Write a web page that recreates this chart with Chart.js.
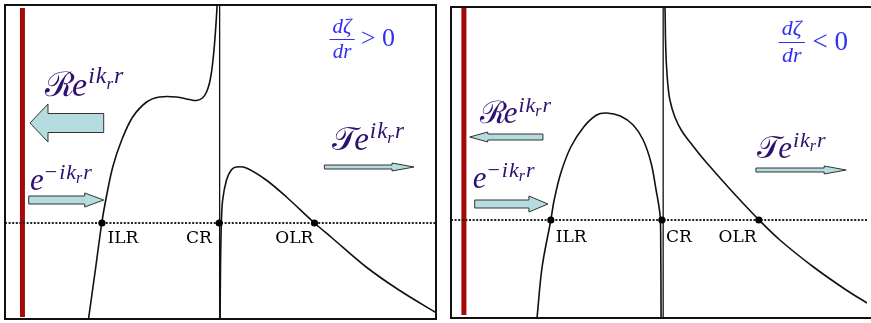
<!DOCTYPE html>
<html>
<head>
<meta charset="utf-8">
<script src="https://cdn.jsdelivr.net/npm/chart.js@4/dist/chart.umd.min.js"></script>
<style>
  html, body { margin: 0; padding: 0; background: #fff; overflow: hidden; }
  #wrap { position: relative; width: 871px; height: 323px; }
  canvas { position: absolute; top: 0; }
</style>
</head>
<body>
<div id="wrap">
  <canvas id="left" width="440" height="323" style="left:0"></canvas>
  <canvas id="right" width="425" height="323" style="left:446px"></canvas>
</div>
<script>
// --- data: radius r on x, wave quantity on y (schematic units) ---

// left panel, dzeta/dr > 0
const leftInner = [[1.921,-1.02],[1.944,-0.94],[2.106,-0.44],[2.245,0],[2.338,0.23],[2.50,0.56],[2.708,0.83],
  [2.963,1.06],[3.287,1.21],[3.588,1.26],[3.981,1.26],[4.282,1.235],[4.444,1.225],[4.583,1.25],[4.676,1.31],
  [4.745,1.40],[4.792,1.51],[4.826,1.63],[4.861,1.79],[4.884,1.92],[4.907,2.07],[4.921,2.18],[4.935,2.33]];
const leftOuter = [[4.985,-1.05],[4.99,-0.97],[5.00,-0.44],[5.02,0],[5.05,0.23],[5.14,0.43],[5.25,0.53],
  [5.37,0.56],[5.60,0.55],[6.06,0.43],[6.53,0.26],[7.18,0],[7.59,-0.15],[8.38,-0.44],[9.14,-0.67],[10.05,-0.91]];
const leftRes = [2.25, 4.97, 7.18];

// right panel, dzeta/dr < 0
const rightInner = [[2.05,-1.05],[2.07,-0.97],[2.19,-0.47],[2.40,0],[2.48,0.20],[2.64,0.47],[2.88,0.73],
  [3.19,0.93],[3.50,1.05],[3.74,1.07],[4.07,1.04],[4.38,0.95],[4.62,0.80],[4.81,0.57],[4.93,0.30],
  [5.02,0.07],[5.04,-0.13],[5.05,-1.05]];
const rightOuter = [[5.119,2.25],[5.143,2.13],[5.157,1.80],[5.179,1.55],[5.214,1.35],[5.262,1.20],[5.381,1.03],
  [5.548,0.89],[5.762,0.77],[6.048,0.62],[6.405,0.45],[6.881,0.23],[7.405,0],[7.905,-0.20],[8.714,-0.47],
  [9.50,-0.70],[10.0,-0.83],[10.12,-0.86]];
const rightRes = [2.40, 5.07, 7.40];

const resNames = ['ILR', 'CR', 'OLR'];

const PURPLE = '#2d1070';
const BLUE = '#3030f0';
const ARROW_FILL = '#b5dcde';
const SERIF = '"Liberation Serif", "DejaVu Serif", serif';

function f(size) { return 'italic ' + size + 'px ' + SERIF; }

// e^{(-)ik_r r} with an optional script letter in front
function waveText(prefix, minus, m) {
  const s = Math.round(m * 0.7), ss = Math.round(m * 0.5);
  const runs = [];
  if (prefix) runs.push({ t: prefix, font: m + 'px "DejaVu Serif", serif', dy: 0, k: -3 });
  runs.push({ t: 'e', font: f(m), dy: 0, k: 1 });
  if (minus) runs.push({ t: '\u2212', font: s + 'px ' + SERIF, dy: -m * 0.37, k: 2 });
  runs.push({ t: 'i', font: f(s), dy: -m * 0.37, k: 1 });
  runs.push({ t: 'k', font: f(s), dy: -m * 0.37, k: 0 });
  runs.push({ t: 'r', font: f(ss), dy: -m * 0.22, k: 1 });
  runs.push({ t: 'r', font: f(s), dy: -m * 0.37 });
  return runs;
}

const frame = {
  id: 'frame',
  afterDatasetsDraw(chart, args, opts) {
    const ctx = chart.ctx, xs = chart.scales.x, ys = chart.scales.y;
    const px = v => xs.getPixelForValue(v), py = v => ys.getPixelForValue(v);
    ctx.save();

    // arrows
    opts.arrows.forEach(a => {
      const x0 = px(a.from), x1 = px(a.to), y = py(a.y);
      const dir = Math.sign(x1 - x0);
      const hx = x1 - dir * a.headLen;
      ctx.beginPath();
      ctx.moveTo(x0, y - a.shaft / 2);
      ctx.lineTo(hx, y - a.shaft / 2);
      ctx.lineTo(hx, y - a.head / 2);
      ctx.lineTo(x1, y);
      ctx.lineTo(hx, y + a.head / 2);
      ctx.lineTo(hx, y + a.shaft / 2);
      ctx.lineTo(x0, y + a.shaft / 2);
      ctx.closePath();
      ctx.fillStyle = ARROW_FILL;
      ctx.fill();
      ctx.strokeStyle = '#333';
      ctx.lineWidth = 1;
      ctx.stroke();
    });

    // wave labels
    ctx.textBaseline = 'alphabetic';
    ctx.textAlign = 'left';
    opts.texts.forEach(tx => {
      let cx = px(tx.x);
      const y = py(tx.y);
      ctx.fillStyle = PURPLE;
      tx.runs.forEach(r => {
        ctx.font = r.font;
        ctx.fillText(r.t, cx, y + r.dy);
        cx += ctx.measureText(r.t).width + (r.k || 0);
      });
    });

    // d zeta / dr fraction
    const fr = opts.frac;
    const fx = px(fr.x), fy = py(fr.y);
    ctx.fillStyle = BLUE;
    ctx.strokeStyle = BLUE;
    ctx.textAlign = 'center';
    ctx.font = f(fr.size);
    ctx.fillText('d\u03B6', fx, fy - fr.size * 0.3);
    ctx.fillText('dr', fx, fy + fr.size * 0.9);
    ctx.lineWidth = 1;
    ctx.beginPath();
    ctx.moveTo(fx - fr.size * 0.6, fy + 0.5);
    ctx.lineTo(fx + fr.size * 0.6, fy + 0.5);
    ctx.stroke();
    ctx.textAlign = 'left';
    ctx.font = (fr.size + 5) + 'px ' + SERIF;
    ctx.fillText(fr.sign + ' 0', fx + fr.size * fr.gap, fy + fr.size * 0.35);

    // resonance names
    ctx.fillStyle = '#000';
    ctx.font = '17px "DejaVu Serif", serif';
    opts.names.forEach((n, i) => {
      ctx.textAlign = n.align;
      ctx.fillText(resNames[i], px(n.x), py(n.y));
    });

    // box
    const ca = chart.chartArea;
    ctx.strokeStyle = '#111';
    ctx.lineWidth = 2;
    ctx.beginPath();
    if (opts.open) {
      ctx.moveTo(chart.width + 2, ca.top);
      ctx.lineTo(ca.left, ca.top);
      ctx.lineTo(ca.left, ca.bottom);
      ctx.lineTo(chart.width + 2, ca.bottom);
    } else {
      ctx.rect(ca.left, ca.top, ca.right - ca.left, ca.bottom - ca.top);
    }
    ctx.stroke();
    ctx.restore();
  }
};

function pts(arr) { return arr.map(p => ({ x: p[0], y: p[1] })); }

function makePanel(id, p) {
  const datasets = [];
  p.curves.forEach(c => datasets.push({
    data: pts(c), showLine: true, pointRadius: 0, borderColor: '#111', borderWidth: 1.6,
    tension: 0.35, order: 1
  }));
  datasets.push({
    data: [{ x: p.cr, y: p.y[0] - 1 }, { x: p.cr, y: p.y[1] + 1 }],
    showLine: true, pointRadius: 0, borderColor: '#111', borderWidth: 1.3, order: 2
  });
  datasets.push({
    data: [{ x: 0, y: 0 }, { x: 10.5, y: 0 }],
    showLine: true, pointRadius: 0, borderColor: '#222', borderWidth: 1.8, borderDash: [2, 1.6], order: 3
  });
  datasets.push({
    data: [{ x: p.wall, y: p.wallY[0] }, { x: p.wall, y: p.wallY[1] }],
    showLine: true, pointRadius: 0, borderColor: '#a50a0a', borderWidth: 5, borderCapStyle: 'butt', order: 4
  });
  datasets.push({
    data: p.res.map(r => ({ x: r, y: 0 })),
    showLine: false, pointRadius: 3.6, pointBackgroundColor: '#000', pointBorderWidth: 0, order: 0
  });

  return new Chart(document.getElementById(id), {
    type: 'scatter',
    data: { datasets },
    options: {
      responsive: false,
      animation: false,
      layout: { padding: p.pad },
      elements: { line: { capBezierPoints: false } },
      scales: {
        x: { type: 'linear', display: false, min: 0, max: 10 },
        y: { type: 'linear', display: false, min: p.y[0], max: p.y[1] }
      },
      plugins: {
        legend: { display: false },
        tooltip: { enabled: false },
        frame: p.deco
      }
    },
    plugins: [frame]
  });
}

makePanel('left', {
  curves: [leftInner, leftOuter],
  res: leftRes,
  cr: 4.98,
  wall: 0.405,
  wallY: [-0.94, 2.15],
  y: [-0.96, 2.18],
  pad: { left: 5, top: 5, right: 3, bottom: 4 },
  deco: {
    open: false,
    arrows: [
      { from: 2.29, to: 0.58, y: 1.00, shaft: 19, head: 38, headLen: 18 },
      { from: 0.55, to: 2.29, y: 0.23, shaft: 8, head: 14, headLen: 19 },
      { from: 7.41, to: 9.49, y: 0.56, shaft: 4, head: 8, headLen: 22 }
    ],
    texts: [
      { x: 0.93, y: 1.27, runs: waveText('\u211B', false, 34) },
      { x: 0.58, y: 0.33, runs: waveText('', true, 31) },
      { x: 7.59, y: 0.73, runs: waveText('\uD835\uDCAF', false, 33) }
    ],
    frac: { x: 7.82, y: 1.84, size: 21, sign: '>', gap: 0.9 },
    names: [
      { x: 2.38, y: -0.20, align: 'left' },
      { x: 4.80, y: -0.20, align: 'right' },
      { x: 6.27, y: -0.20, align: 'left' }
    ]
  }
});

makePanel('right', {
  curves: [rightInner, rightOuter],
  res: rightRes,
  cr: 5.10,
  wall: 0.31,
  wallY: [-0.95, 2.13],
  y: [-0.98, 2.13],
  pad: { left: 5, top: 7, right: 0, bottom: 5 },
  deco: {
    open: true,
    arrows: [
      { from: 2.21, to: 0.45, y: 0.83, shaft: 6, head: 10, headLen: 18 },
      { from: 0.57, to: 2.33, y: 0.16, shaft: 8, head: 16, headLen: 19 },
      { from: 7.33, to: 9.50, y: 0.50, shaft: 4, head: 8, headLen: 22 }
    ],
    texts: [
      { x: 0.69, y: 0.97, runs: waveText('\u211B', false, 31) },
      { x: 0.52, y: 0.32, runs: waveText('', true, 31) },
      { x: 7.36, y: 0.62, runs: waveText('\uD835\uDCAF', false, 31) }
    ],
    frac: { x: 8.19, y: 1.78, size: 22, sign: '<', gap: 0.95 },
    names: [
      { x: 2.52, y: -0.22, align: 'left' },
      { x: 5.17, y: -0.22, align: 'left' },
      { x: 6.43, y: -0.22, align: 'left' }
    ]
  }
});
</script>
</body>
</html>
